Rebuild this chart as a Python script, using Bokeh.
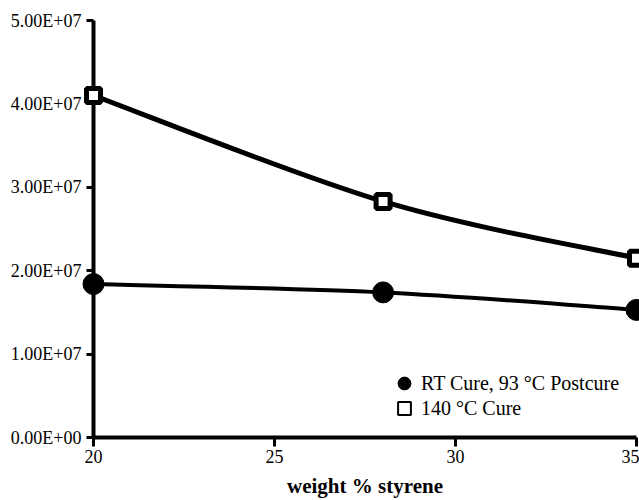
from bokeh.plotting import figure
from bokeh.models import Range1d, Legend, LegendItem, FixedTicker, ColumnDataSource
from bokeh.embed import file_html
from bokeh.resources import INLINE

# ---- data ----
styrene = [20, 28, 35]
rt_cure = [1.84e7, 1.74e7, 1.53e7]      # RT Cure, 93 °C Postcure
cure_140 = [4.10e7, 2.83e7, 2.15e7]     # 140 °C Cure

x_ticks = [20, 25, 30, 35]
y_ticks = [0, 1e7, 2e7, 3e7, 4e7, 5e7]
y_tick_labels = ["0.00E+00", "1.00E+07", "2.00E+07", "3.00E+07", "4.00E+07", "5.00E+07"]

series_names = ["RT Cure, 93 °C Postcure", "140 °C Cure"]
x_label = "weight % styrene"

FONT = "Liberation Serif"
NAN = float("nan")


def smooth_segments(xs, ys):
    """Bezier control points for a smoothed line through the points (Excel-style)."""
    n = len(xs)
    px = [xs[0]] + list(xs) + [xs[-1]]
    py = [ys[0]] + list(ys) + [ys[-1]]
    seg = dict(x0=[], y0=[], x1=[], y1=[], cx0=[], cy0=[], cx1=[], cy1=[])
    for i in range(n - 1):
        j = i + 1
        seg["x0"].append(px[j]); seg["y0"].append(py[j])
        seg["x1"].append(px[j + 1]); seg["y1"].append(py[j + 1])
        seg["cx0"].append(px[j] + (px[j + 1] - px[j - 1]) / 6)
        seg["cy0"].append(py[j] + (py[j + 1] - py[j - 1]) / 6)
        seg["cx1"].append(px[j + 1] - (px[j + 2] - px[j]) / 6)
        seg["cy1"].append(py[j + 1] - (py[j + 2] - py[j]) / 6)
    return ColumnDataSource(seg)


p = figure(width=639, height=500, output_backend="svg", toolbar_location=None,
           x_range=Range1d(20, 35), y_range=Range1d(0, 5e7),
           min_border_left=93, min_border_right=3, min_border_top=20, min_border_bottom=62)
p.outline_line_color = None
p.xgrid.grid_line_color = None
p.ygrid.grid_line_color = None

# smoothed lines
p.bezier(x0="x0", y0="y0", x1="x1", y1="y1", cx0="cx0", cy0="cy0", cx1="cx1", cy1="cy1",
         source=smooth_segments(styrene, cure_140), line_color="black", line_width=5)
p.bezier(x0="x0", y0="y0", x1="x1", y1="y1", cx0="cx0", cy0="cy0", cx1="cx1", cy1="cy1",
         source=smooth_segments(styrene, rt_cure), line_color="black", line_width=4)

# markers (overlay level so that the edge markers are not clipped)
r1 = p.scatter(styrene, rt_cure, marker="circle", size=21, fill_color="black",
               line_color="black", level="overlay")
r2 = p.scatter(styrene, cure_140, marker="square", size=14, fill_color="white",
               line_color="black", line_width=5, level="overlay")

# legend-only renderers (a single NaN point: nothing in the plot, drawn in the legend)
l1 = p.scatter([NAN], [NAN], marker="circle", fill_color="black", line_color="black")
l2 = p.scatter([NAN], [NAN], marker="square", fill_color="white", line_color="black",
               line_width=2)


def make_legend(label, rend, loc):
    return Legend(items=[LegendItem(label=label, renderers=[rend])],
                  location=loc, padding=0, margin=0, spacing=0,
                  glyph_width=32, glyph_height=32, label_standoff=1,
                  border_line_alpha=0, background_fill_alpha=0,
                  label_text_font=FONT, label_text_font_size="20px",
                  label_text_color="black")


p.add_layout(make_legend(series_names[0], l1, (295, 38)))
p.add_layout(make_legend(series_names[1], l2, (295, 13)))

p.axis.axis_line_width = 4
p.axis.axis_line_color = "black"
p.axis.major_tick_line_width = 3
p.axis.major_tick_line_color = "black"
p.axis.major_tick_in = 0
p.axis.minor_tick_line_color = None
p.axis.major_label_text_font = FONT
p.axis.major_label_text_font_size = "18px"
p.axis.major_label_text_color = "black"

p.xaxis.ticker = FixedTicker(ticks=x_ticks)
p.xaxis.major_tick_out = 9
p.xaxis.major_label_standoff = 3
p.xaxis.axis_label = x_label
p.xaxis.axis_label_text_font = FONT
p.xaxis.axis_label_text_font_style = "bold"
p.xaxis.axis_label_text_font_size = "21px"
p.xaxis.axis_label_text_color = "black"
p.xaxis.axis_label_standoff = 8

p.yaxis.ticker = FixedTicker(ticks=y_ticks)
p.yaxis.major_label_overrides = {t: lab for t, lab in zip(y_ticks, y_tick_labels)}
p.yaxis.major_tick_out = 7
p.yaxis.major_label_standoff = 5

open("out.html", "w").write(file_html(p, INLINE))
